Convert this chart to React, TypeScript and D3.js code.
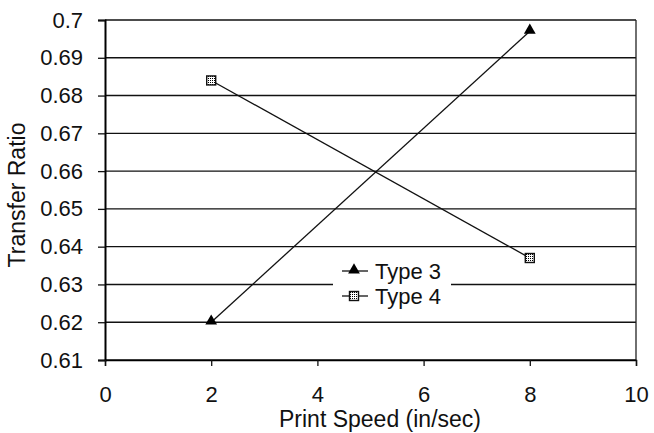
import React, { useEffect, useRef } from 'react';
import * as d3 from 'd3';

// values
const speeds = [2, 8];
const type3 = [0.62, 0.697];
const type4 = [0.684, 0.637];
const seriesNames = ['Type 3', 'Type 4'];
const xTicks = [0, 2, 4, 6, 8, 10];
const yTicks = [0.61, 0.62, 0.63, 0.64, 0.65, 0.66, 0.67, 0.68, 0.69, 0.7];

const W = 654;
const H = 433;
const margin = { top: 20, right: 18, bottom: 73, left: 105 };
const FONT = '"Liberation Sans", Arial, sans-serif';
const FS = 22;

export default function App() {
  const ref = useRef<SVGSVGElement>(null);

  useEffect(() => {
    document.body.style.margin = '0';
    const svg = d3.select(ref.current);
    svg.selectAll('*').remove();

    const x = d3.scaleLinear().domain([0, 10]).range([margin.left, W - margin.right]);
    const y = d3.scaleLinear().domain([0.61, 0.7]).range([H - margin.bottom, margin.top]);

    // hatch pattern for the square markers
    const defs = svg.append('defs');
    const pat = defs.append('pattern')
      .attr('id', 'hatch')
      .attr('width', 2).attr('height', 2)
      .attr('patternUnits', 'userSpaceOnUse');
    pat.append('rect').attr('width', 2).attr('height', 2).attr('fill', '#fff');
    pat.append('rect').attr('width', 1).attr('height', 1).attr('fill', '#000');

    // gridlines
    svg.append('g')
      .selectAll('line')
      .data(yTicks)
      .enter()
      .append('line')
      .attr('x1', x(0)).attr('x2', x(10))
      .attr('y1', d => y(d)).attr('y2', d => y(d))
      .attr('stroke', '#111').attr('stroke-width', 1.4);

    // right border
    svg.append('line')
      .attr('x1', x(10)).attr('x2', x(10))
      .attr('y1', y(0.7)).attr('y2', y(0.61))
      .attr('stroke', '#222').attr('stroke-width', 1.3);

    const yAxis = d3.axisLeft(y)
      .tickValues(yTicks)
      .tickSize(7)
      .tickPadding(15)
      .tickFormat(d => String(+(+d).toFixed(2)));
    const yg = svg.append('g')
      .attr('transform', `translate(${x(0)},0)`)
      .call(yAxis);
    yg.select('.domain').attr('stroke-width', 2);

    const xAxis = d3.axisBottom(x)
      .tickValues(xTicks)
      .tickSize(6)
      .tickPadding(20)
      .tickFormat(d3.format('d'));
    const xg = svg.append('g')
      .attr('transform', `translate(0,${y(0.61)})`)
      .call(xAxis);
    xg.select('.domain').attr('stroke-width', 1.4);

    [yg, xg].forEach(g => {
      g.selectAll('text')
        .attr('font-family', FONT)
        .attr('font-size', FS)
        .attr('fill', '#111');
      g.selectAll('.tick line').attr('stroke', '#111').attr('stroke-width', 1.3);
    });

    // axis titles
    svg.append('text')
      .attr('transform', `translate(25,195) rotate(-90)`)
      .attr('text-anchor', 'middle')
      .attr('font-family', FONT).attr('font-size', 23).attr('fill', '#111')
      .text('Transfer Ratio');

    svg.append('text')
      .attr('x', 380)
      .attr('y', 427)
      .attr('text-anchor', 'middle')
      .attr('font-family', FONT).attr('font-size', 23).attr('fill', '#111')
      .text('Print Speed (in/sec)');

    const line = d3.line<number>()
      .x((d, i) => x(speeds[i]))
      .y(d => y(d));

    const tri = d3.symbol().type(d3.symbolTriangle).size(60);

    const drawSquare = (g: any, cx: number, cy: number) => {
      g.append('rect')
        .attr('x', cx - 4.5).attr('y', cy - 4.5)
        .attr('width', 9).attr('height', 9)
        .attr('fill', 'url(#hatch)')
        .attr('stroke', '#111').attr('stroke-width', 1.4);
    };

    // lines
    [type3, type4].forEach(vals => {
      svg.append('path')
        .attr('d', line(vals))
        .attr('fill', 'none')
        .attr('stroke', '#111')
        .attr('stroke-width', 1.3);
    });

    // markers
    svg.append('g')
      .selectAll('path')
      .data(type3)
      .enter()
      .append('path')
      .attr('d', tri)
      .attr('transform', (d, i) => `translate(${x(speeds[i])},${y(d) - 1})`)
      .attr('fill', '#000');

    const sq = svg.append('g');
    type4.forEach((v, i) => drawSquare(sq, x(speeds[i]), y(v)));

    // legend
    const lg = svg.append('g');
    lg.append('rect')
      .attr('x', 333).attr('y', 260)
      .attr('width', 118).attr('height', 48)
      .attr('fill', '#fff');
    seriesNames.forEach((name, i) => {
      const cy = 271 + i * 25;
      lg.append('line')
        .attr('x1', 342).attr('x2', 368)
        .attr('y1', cy).attr('y2', cy)
        .attr('stroke', '#111').attr('stroke-width', 1.3);
      if (i === 0) {
        lg.append('path').attr('d', tri)
          .attr('transform', `translate(354,${cy - 1})`)
          .attr('fill', '#000');
      } else {
        drawSquare(lg, 354, cy);
      }
      lg.append('text')
        .attr('x', 375).attr('y', cy + 8)
        .attr('font-family', FONT).attr('font-size', FS).attr('fill', '#111')
        .text(name);
    });
  }, []);

  return (
    <svg ref={ref} width={W} height={H} style={{ display: 'block', background: '#fff' }} />
  );
}
